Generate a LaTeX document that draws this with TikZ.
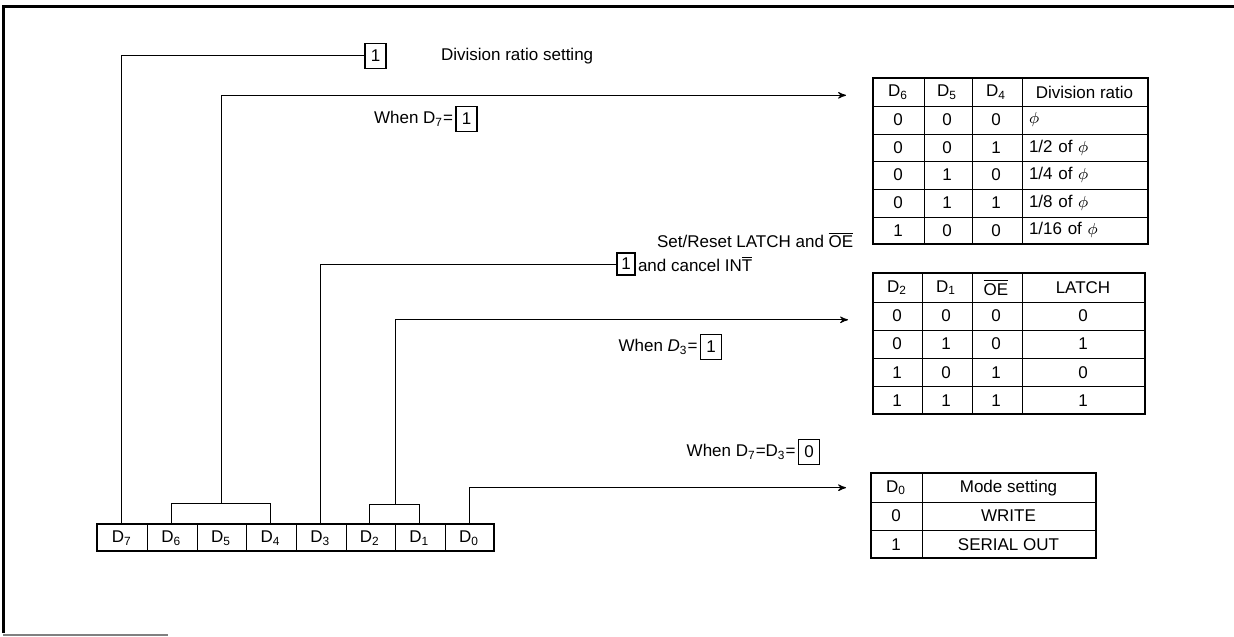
\documentclass[tikz,border=0pt]{standalone}
\usepackage{fontspec}
\setmainfont{Liberation Sans}
\usepackage{tikz}
\usetikzlibrary{arrows,shapes,positioning}

\tikzset{
  conn/.style={line width=0.5pt},
  tip/.style={-stealth', shorten >=12pt},
  grid/.style={line width=0.4pt},
  valbox/.style={draw, line width=0.6pt, minimum width=10.5pt, minimum height=12.5pt, inner sep=1pt},
  tab/.style={matrix, ampersand replacement=\&, draw, line width=1pt, inner sep=0pt,
    column sep=0pt, row sep=0pt, anchor=north west},
  lcell/.style={text width=55.5pt, inner xsep=4pt, align=left}
}

\begin{document}
\begin{tikzpicture}[x=0.5pt,y=-0.5pt,font=\fontsize{8.5}{10}\selectfont]
\useasboundingbox (0,0) rectangle (1234,636);
% frame
\draw[line width=1.5pt] (3,633) -- (3,7) -- (1234,7);
\draw[gray, line width=0.6pt] (3,635) -- (168,635);

% register
\node [tab, at={(96,523)}, nodes={minimum width=24.8pt, minimum height=13pt, inner sep=0pt}] (reg)
    {
        \node (d7) {D\textsubscript{7}}; \& \node (d6) {D\textsubscript{6}}; \& \node (d5) {D\textsubscript{5}}; \& \node (d4) {D\textsubscript{4}}; \& \node (d3) {D\textsubscript{3}}; \& \node (d2) {D\textsubscript{2}}; \& \node (d1) {D\textsubscript{1}}; \& \node (d0) {D\textsubscript{0}}; \\
};
\foreach \n in {d7,d6,d5,d4,d3,d2,d1}
    \draw[grid] (\n.north east) -- (\n.south east);

% division ratio table
\node [tab, at={(872,77)}, nodes={minimum height=13.3pt, inner sep=0pt},
       column 1/.style={nodes={minimum width=25pt}}, column 2/.style={nodes={minimum width=24pt}},
       column 3/.style={nodes={minimum width=25pt}}, column 4/.style={nodes={minimum width=63.5pt}}] (ratio)
    {
        \node (rh6) {D\textsubscript{6}}; \& \node (rh5) {D\textsubscript{5}}; \& \node (rh4) {D\textsubscript{4}}; \& \node (rhr) {Division ratio}; \\
        \node (r1) {0}; \& \node {0}; \& \node {0}; \& \node[lcell] {$\phi$}; \\
        \node (r2) {0}; \& \node {0}; \& \node {1}; \& \node[lcell] {1/2 of $\phi$}; \\
        \node (r3) {0}; \& \node {1}; \& \node {0}; \& \node[lcell] {1/4 of $\phi$}; \\
        \node (r4) {0}; \& \node {1}; \& \node {1}; \& \node[lcell] {1/8 of $\phi$}; \\
        \node (r5) {1}; \& \node {0}; \& \node {0}; \& \node[lcell] {1/16 of $\phi$}; \\
};
\foreach \n in {rh6,rh5,rh4}
    \draw[grid] (\n.north east) -- (\n.north east |- ratio.south);
\foreach \n in {rh6,r1,r2,r3,r4}
    \draw[grid] (\n.south west) -- (\n.south west -| ratio.east);

% latch table
\node [tab, at={(872,272)}, nodes={minimum height=13.6pt, inner sep=0pt},
       column 1/.style={nodes={minimum width=24pt}}, column 2/.style={nodes={minimum width=25pt}},
       column 3/.style={nodes={minimum width=25pt}}, column 4/.style={nodes={minimum width=62pt}}] (latch)
    {
        \node (lh2) {D\textsubscript{2}}; \& \node (lh1) {D\textsubscript{1}}; \& \node (lhoe) {$\overline{\mbox{OE}}$}; \& \node (lhl) {LATCH}; \\
        \node (l1) {0}; \& \node {0}; \& \node {0}; \& \node {0}; \\
        \node (l2) {0}; \& \node {1}; \& \node {0}; \& \node {1}; \\
        \node (l3) {1}; \& \node {0}; \& \node {1}; \& \node {0}; \\
        \node (l4) {1}; \& \node {1}; \& \node {1}; \& \node {1}; \\
};
\foreach \n in {lh2,lh1,lhoe}
    \draw[grid] (\n.north east) -- (\n.north east |- latch.south);
\foreach \n in {lh2,l1,l2,l3}
    \draw[grid] (\n.south west) -- (\n.south west -| latch.east);

% mode table
\node [tab, at={(870,472)}, nodes={minimum height=13.7pt, inner sep=0pt},
       column 1/.style={nodes={minimum width=25pt}}, column 2/.style={nodes={minimum width=87.5pt}}] (mode)
    {
        \node (mh0) {D\textsubscript{0}}; \& \node (mhm) {Mode setting}; \\
        \node (m1) {0}; \& \node {WRITE}; \\
        \node (m2) {1}; \& \node {SERIAL OUT}; \\
};
\draw[grid] (mh0.north east) -- (mh0.north east |- mode.south);
\foreach \n in {mh0,m1}
    \draw[grid] (\n.south west) -- (\n.south west -| mode.east);

% labels
\node[valbox] (v7) at (375.5,56) {1};
\node[anchor=west] (set7) at (434,56) {Division ratio setting};
\node[valbox] (v64) at (466.5,119) {1};
\node[anchor=east, inner sep=1pt] (when64) at (v64.west) {When D\textsubscript{7}=};
\node[anchor=west] (set3) at (650,240) {Set/Reset LATCH and $\overline{\mbox{OE}}$};
\node[valbox, minimum width=9pt, minimum height=11pt] (v3) at (626,264) {1};
\node[anchor=west, inner sep=1pt] (cancel3) at (v3.east) {and cancel IN$\overline{\mbox{T}}$};
\node[valbox] (v21) at (711,347) {1};
\node[anchor=east, inner sep=1pt] (when21) at (v21.west) {When \textit{D}\textsubscript{3}=};
\node[valbox] (v0) at (809,452) {0};
\node[anchor=east, inner sep=1pt] (when0) at (v0.west) {When D\textsubscript{7}=D\textsubscript{3}=};

% connectors
\draw[conn] (d7.north) |- (v7.west);
\draw[conn] (d6.north) -- ++(0,-21) coordinate (br64) -| (d4.north);
\draw[conn,tip] (br64 -| d5.north) |- ([xshift=-1pt,yshift=-1.5pt]rh6.west);
\draw[conn] (d3.north) |- (v3.west);
\draw[conn] (d2.north) -- ++(0,-20) coordinate (br21) -| (d1.north);
\draw[conn,tip] (br21 -| d2.north east) |- ([yshift=-2pt]l1.west);
\draw[conn,tip] (d0.north) |- (mh0.west);
\end{tikzpicture}
\end{document}
